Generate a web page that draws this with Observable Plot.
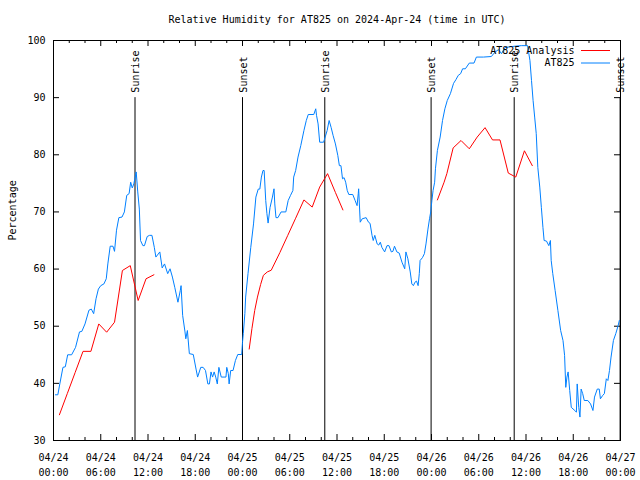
<!DOCTYPE html>
<html><head><meta charset="utf-8">
<script src="https://cdn.jsdelivr.net/npm/d3@7"></script>
<script src="https://cdn.jsdelivr.net/npm/@observablehq/plot@0.6"></script>
<style>html,body{margin:0;padding:0;background:#fff;}</style>
</head><body><div id="chart"></div>
<script>
// Hours since 2024-04-24 00:00 UTC
const obsHours = [0.25,0.55,0.8,1.2,1.5,1.8,2.3,2.8,3.3,3.6,4.0,4.5,4.8,5.1,5.4,5.7,6.0,6.4,6.7,6.9,7.2,7.55,7.75,8.0,8.3,8.7,9.0,9.3,9.6,9.8,10.0,10.2,10.5,10.7,10.9,11.05,11.35,11.55,11.9,12.2,12.5,12.8,13.0,13.5,13.8,14.1,14.5,14.8,15.1,15.4,15.8,16.1,16.2,16.4,16.7,16.8,17.0,17.25,17.75,18.1,18.3,18.7,19.0,19.3,19.6,19.8,20.0,20.2,20.4,20.6,20.8,21.0,21.3,21.9,22.0,22.2,22.3,22.5,22.8,23.1,23.4,23.9,24.0,24.1,24.3,24.4,24.7,25.05,25.4,25.7,26.0,26.2,26.4,26.6,26.75,26.95,27.1,27.25,27.5,27.8,28.0,28.1,28.25,28.5,28.9,29.5,29.8,30.1,30.4,30.5,30.75,31.05,31.4,31.8,32.1,32.35,33.05,33.3,33.4,33.6,33.8,34.3,34.75,35.0,35.25,35.5,35.8,36.1,36.3,36.5,36.7,36.9,37.1,37.3,37.5,38.0,38.3,38.55,38.7,38.75,38.95,39.2,39.7,40.0,40.2,40.45,40.6,40.8,41.1,41.3,41.5,41.7,42.05,42.35,42.6,42.9,43.1,43.3,43.6,43.9,44.25,44.6,44.75,45.0,45.3,45.5,45.7,45.9,46.1,46.3,46.45,46.55,46.85,47.1,47.3,47.55,47.75,47.9,48.05,48.2,48.4,48.5,48.75,49.1,49.4,49.7,50.0,50.4,50.8,51.1,51.4,51.7,51.95,52.3,52.8,53.4,53.7,54.6,55.6,56.05,56.5,56.9,57.3,57.95,58.6,59.4,60.2,60.5,60.7,60.9,61.1,61.3,61.5,61.75,61.95,62.15,62.3,62.6,62.9,63.1,63.2,63.4,63.7,64.05,64.4,64.7,64.9,65.05,65.2,65.35,65.55,65.75,66.2,66.4,66.5,66.7,66.85,67.0,67.2,67.4,67.85,68.2,68.5,68.7,69.05,69.3,69.45,69.75,69.95,70.2,70.4,70.6,70.8,71.1,71.4,71.7,71.85];
const obsRH = [38.0,38.0,39.9,42.8,42.9,45.0,45.0,46.3,49.0,49.1,50.4,52.8,53.0,52.2,54.8,56.5,57.1,57.4,58.3,60.9,64.0,64.0,63.1,66.8,69.0,69.1,70.0,72.9,73.2,75.2,74.2,74.9,77.0,73.5,70.5,65.0,64.1,64.1,65.7,65.9,65.9,63.8,62.1,63.0,60.2,60.9,59.2,60.05,58.6,56.8,54.2,56.25,57.1,51.9,49.0,47.8,49.25,45.2,45.05,42.5,41.1,42.8,42.8,42.25,39.9,39.9,42.0,41.1,42.0,41.1,39.9,42.8,41.1,41.1,42.8,41.7,39.9,42.25,42.25,44.0,45.05,45.05,47.2,48.7,52.2,55.1,59.2,63.8,67.9,72.6,74.0,74.0,76.1,77.25,77.25,72.0,69.7,68.05,70.8,72.6,74.05,71.4,69.0,69.0,70.0,70.0,72.0,72.9,73.75,76.1,77.25,79.6,81.6,84.25,86.0,87.05,87.05,88.05,86.9,85.4,82.2,82.2,84.25,86.0,84.8,83.4,81.9,79.9,78.1,78.1,75.8,76.0,75.2,73.75,73.05,73.05,72.0,71.1,73.2,74.05,68.2,68.8,69.0,68.2,68.0,65.9,65.0,65.9,64.4,64.2,64.7,63.8,63.0,64.1,64.1,63.0,63.1,64.0,63.0,62.8,61.2,60.05,63.0,61.8,59.5,57.4,57.1,57.7,57.9,57.1,59.2,61.5,62.0,62.7,64.4,67.0,68.8,70.0,72.0,73.75,75.2,77.55,80.75,83.1,86.0,88.05,89.5,90.7,92.5,93.15,93.9,94.2,95.05,95.05,96.05,96.05,97.1,97.1,97.2,97.95,98.4,97.7,98.75,98.9,99.0,99.1,99.1,96.5,93.0,89.5,86.6,83.7,77.8,74.35,70.8,67.3,65.0,64.9,64.1,65.0,61.5,59.2,56.25,52.75,49.25,47.5,44.9,39.3,41.1,42.0,38.75,35.8,35.25,34.95,39.9,35.8,34.1,39.0,38.2,37.0,37.0,36.4,35.25,37.6,39.0,39.0,37.3,37.9,38.2,40.8,40.5,42.25,44.6,47.5,48.7,50.1,51.0];

const anaHours = [0.75,1.75,2.75,3.75,4.75,5.75,6.75,7.75,8.75,9.75,10.75,11.75,12.75,
  24.85,25.2,25.55,25.9,26.3,26.65,27.15,27.65,28.75,29.75,30.75,31.8,32.85,33.8,34.8,35.8,36.75,
  48.75,49.6,49.95,50.75,51.75,52.8,53.8,54.8,55.75,56.7,57.75,58.7,59.8,60.8];
const anaRH = [34.5,38.2,41.9,45.6,45.6,50.4,48.95,50.7,59.75,60.6,54.5,58.3,59.0,
  46.0,49.6,52.75,55.1,57.3,58.9,59.5,59.8,62.9,65.9,68.9,72.1,70.85,74.35,76.7,73.4,70.35,
  72.1,75.2,76.7,81.2,82.5,81.05,83.1,84.75,82.6,82.6,76.8,76.1,80.7,78.1];
const anaRun = [1,1,1,1,1,1,1,1,1,1,1,1,1,
  2,2,2,2,2,2,2,2,2,2,2,2,2,2,2,2,2,
  3,3,3,3,3,3,3,3,3,3,3,3,3,3];

const eventHours = [10.35, 24.0, 34.45, 47.95, 58.5, 71.95];
const eventLabels = ["Sunrise","Sunset","Sunrise","Sunset","Sunrise","Sunset"];

const xTickHours = [0,6,12,18,24,30,36,42,48,54,60,66,72];
const xTickLabels = ["04/24\n00:00","04/24\n06:00","04/24\n12:00","04/24\n18:00","04/25\n00:00","04/25\n06:00","04/25\n12:00","04/25\n18:00","04/26\n00:00","04/26\n06:00","04/26\n12:00","04/26\n18:00","04/27\n00:00"];
const xMinorHours = [2,4,8,10,14,16,20,22,26,28,32,34,38,40,44,46,50,52,56,58,62,64,68,70];
const yTicks = [30,40,50,60,70,80,90,100];
const legendLabels = ["AT825 Analysis","AT825"];
const titleText = "Relative Humidity for AT825 on 2024-Apr-24 (time in UTC)";
const yLabelText = "Percentage";

const obs = obsHours.map((h,i)=>({h, v: obsRH[i]}));
const ana = anaHours.map((h,i)=>({h, v: anaRH[i], run: anaRun[i]}));
const events = eventHours.map((h,i)=>({h, label: eventLabels[i]}));

const W = 640, H = 480, mL = 53, mR = 20, mT = 40, mB = 40;
const pw = W - mL - mR, ph = H - mT - mB;
const BLUE = "#0080ff", RED = "#ff0000";

const chart = Plot.plot({
  width: W, height: H,
  marginLeft: mL, marginRight: mR, marginTop: mT, marginBottom: mB,
  style: {fontFamily: "'DejaVu Sans Mono', monospace", fontSize: "10px", background: "#fff", color: "#000"},
  x: {domain: [0, 72], label: null},
  y: {domain: [30, 100], label: null},
  marks: [
    Plot.axisX({ticks: xTickHours, tickSize: 0, tickPadding: 10, lineHeight: 1.5,
      tickFormat: d => xTickLabels[xTickHours.indexOf(d)], fill: "#000"}),
    Plot.axisY({ticks: yTicks, tickSize: 0, tickPadding: 8, fill: "#000"}),
    // ticks inside the frame (bottom/top, left/right)
    Plot.tickX(xTickHours, {x: d => d, insetTop: ph - 6, stroke: "#000"}),
    Plot.tickX(xTickHours, {x: d => d, insetBottom: ph - 6, stroke: "#000"}),
    Plot.tickX(xMinorHours, {x: d => d, insetTop: ph - 3, stroke: "#000"}),
    Plot.tickX(xMinorHours, {x: d => d, insetBottom: ph - 3, stroke: "#000"}),
    Plot.tickY(yTicks, {y: d => d, insetRight: pw - 6, stroke: "#000"}),
    Plot.tickY(yTicks, {y: d => d, insetLeft: pw - 6, stroke: "#000"}),
    // sunrise / sunset
    Plot.ruleX(events, {x: "h", y1: 30, y2: 90, stroke: "#000", strokeWidth: 1}),
    Plot.text(events, {x: "h", y: 90, text: "label", rotate: -90, textAnchor: "start",
      lineAnchor: "middle", dy: -5, dx: 1, fill: "#000"}),
    // data
    Plot.line(ana, {x: "h", y: "v", z: "run", stroke: RED, strokeWidth: 1}),
    Plot.line(obs, {x: "h", y: "v", stroke: BLUE, strokeWidth: 1}),
    Plot.frame({stroke: "#000"}),
    // legend
    Plot.text([legendLabels[0]], {frameAnchor: "top-right", dx: -46, dy: 10, textAnchor: "end", lineAnchor: "middle", fill: "#000"}),
    Plot.text([legendLabels[1]], {frameAnchor: "top-right", dx: -46, dy: 22.5, textAnchor: "end", lineAnchor: "middle", fill: "#000"}),
    Plot.ruleY([100], {y: d => d, dy: 10, insetLeft: pw - 39, insetRight: 10, stroke: RED}),
    Plot.ruleY([100], {y: d => d, dy: 22.5, insetLeft: pw - 39, insetRight: 10, stroke: BLUE}),
    // title and y label
    Plot.text([titleText], {frameAnchor: "top", dy: -21, lineAnchor: "middle", fill: "#000"}),
    Plot.text([yLabelText], {frameAnchor: "left", dx: -41, rotate: -90, lineAnchor: "middle", fill: "#000"})
  ]
});
document.getElementById("chart").appendChild(chart);
</script>
</body></html>
